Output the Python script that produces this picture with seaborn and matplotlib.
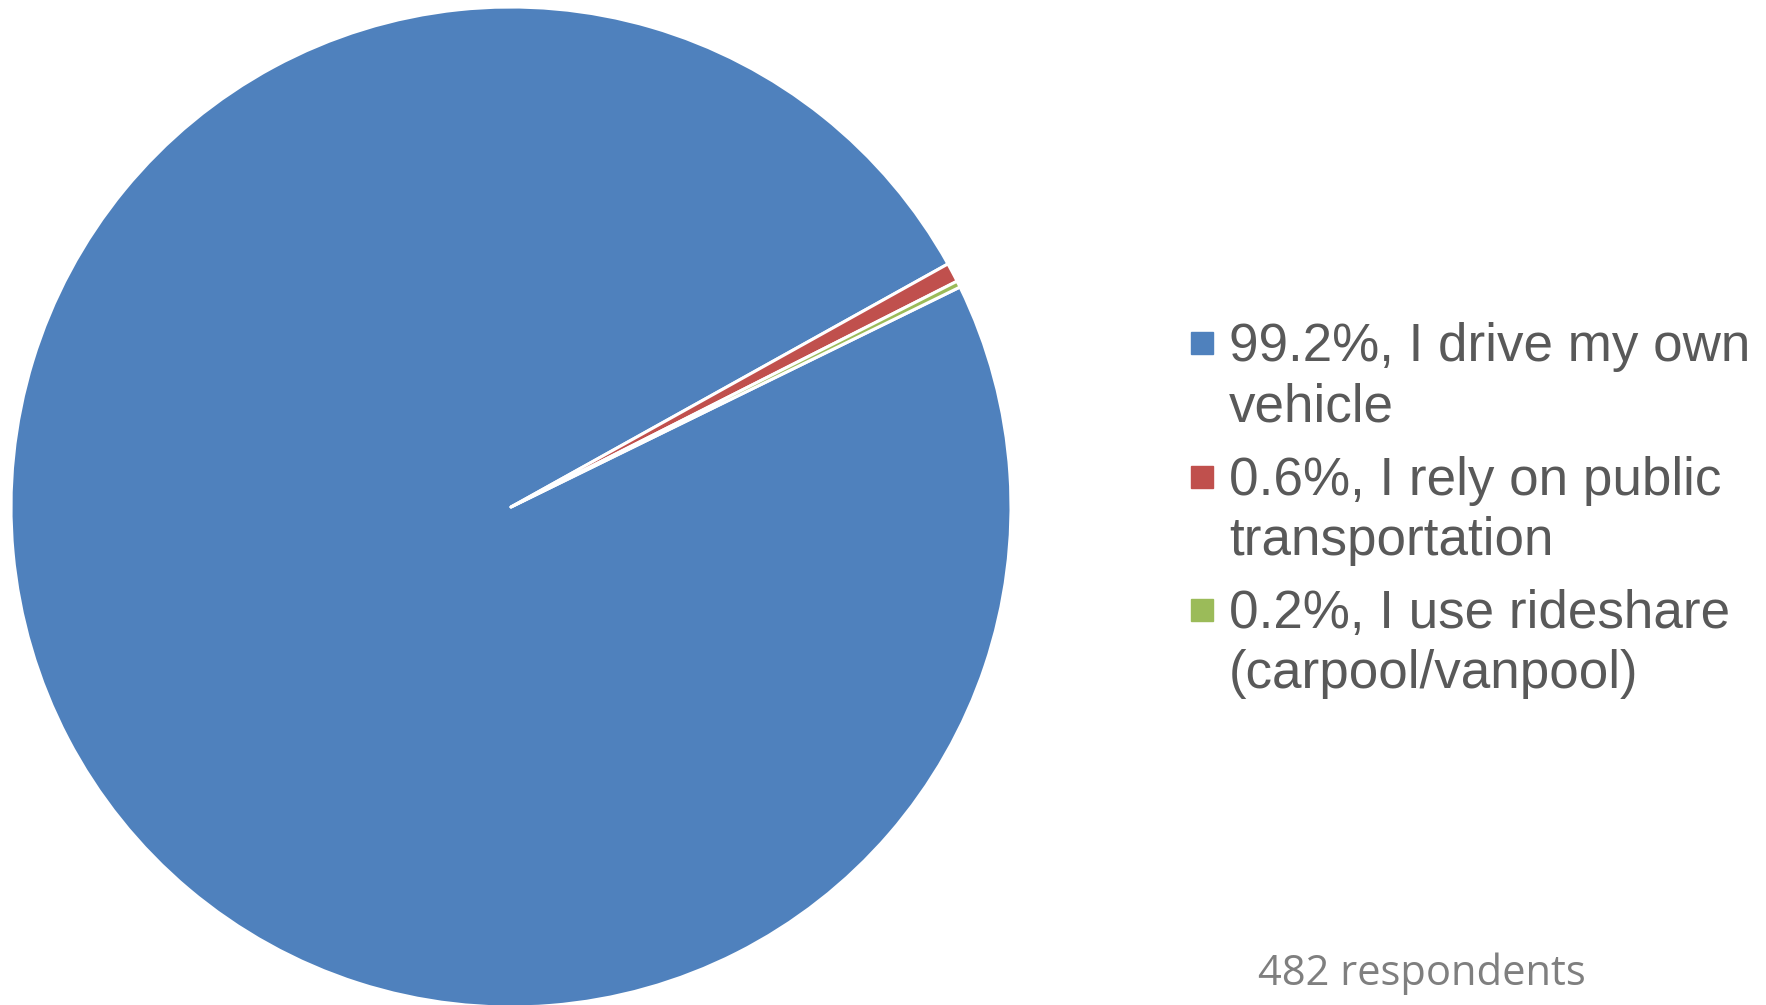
import matplotlib
matplotlib.use("Agg")
import matplotlib.pyplot as plt
import seaborn as sns
from matplotlib.patches import Rectangle

categories = [["I drive my own", "vehicle"],
              ["I rely on public", "transportation"],
              ["I use rideshare", "(carpool/vanpool)"]]
counts = [478, 3, 1]
pct_labels = ["99.2%", "0.6%", "0.2%"]
colors = ["#4F81BD", "#C0504D", "#9BBB59"]
note = "482 respondents"

sns.set_theme(style="white")
plt.rcParams['font.family'] = ['Liberation Sans', 'DejaVu Sans']

W, H = 1766, 1005
fig = plt.figure(figsize=(W / 100, H / 100), dpi=100)
cx, cy, r = 511, 498, 500
ax = fig.add_axes([(cx - r) / W, (cy - r) / H, 2 * r / W, 2 * r / H])
ax.pie(counts, colors=colors, startangle=26.1, counterclock=False,
       wedgeprops=dict(edgecolor="white", linewidth=2.2, joinstyle="round"))
ax.set_xlim(-1, 1)
ax.set_ylim(-1, 1)
ax.set_aspect("equal")
ax.axis("off")

# legend
first_baselines = [361, 495, 628]
line_gap = 60
for lines, pct, col, yb in zip(categories, pct_labels, colors, first_baselines):
    fig.patches.append(Rectangle((1191 / W, 1 - (yb - 7) / H), 22 / W, 22 / H,
                                 transform=fig.transFigure, color=col))
    texts = [f"{pct}, {lines[0]}"] + lines[1:]
    for i, t in enumerate(texts):
        fig.text(1229 / W, 1 - (yb + i * line_gap) / H, t, fontsize=38.2,
                 color="#595959", va="baseline", ha="left")

fig.text(1258 / W, 1 - 985 / H, note, fontsize=30, color="#7F7F7F",
         family=["Open Sans", "DejaVu Sans"], va="baseline", ha="left")

fig.savefig("out.png", dpi=100, facecolor="white")
